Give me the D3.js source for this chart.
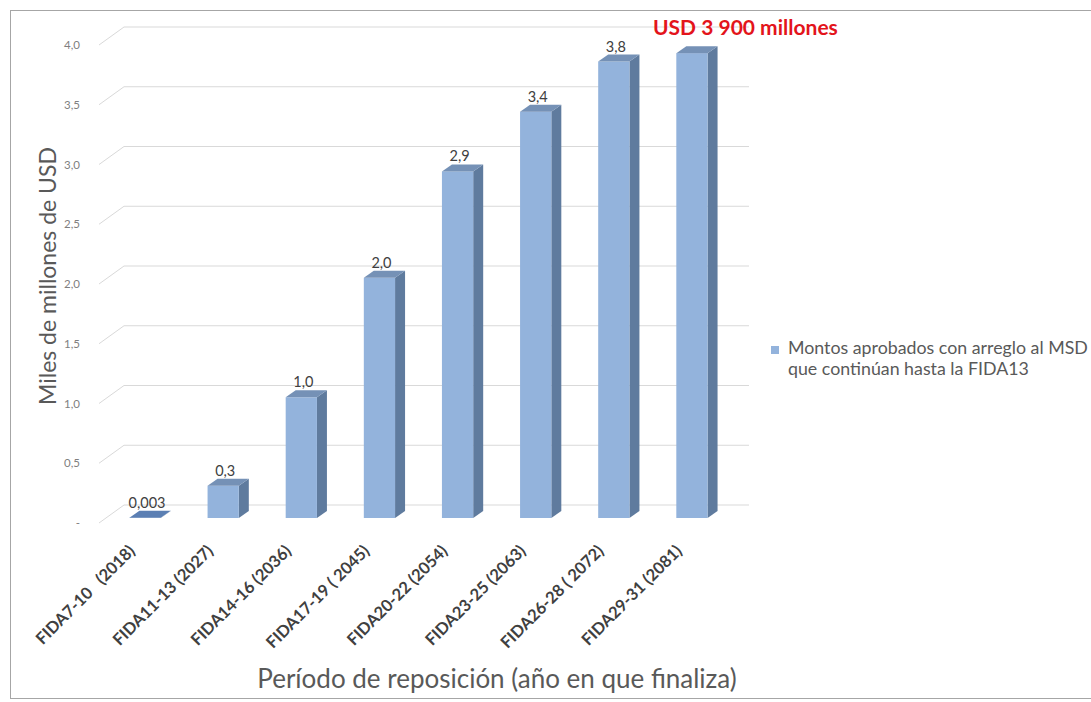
<!DOCTYPE html>
<html>
<head>
<meta charset="utf-8">
<script src="https://cdn.jsdelivr.net/npm/d3@7"></script>
<style>
  body { margin: 0; background: #fff; }
  svg { display: block; font-family: Lato, "Open Sans", sans-serif; }
</style>
</head>
<body>
<div id="chart"></div>
<script>
(function() {
  'use strict';

  var categories = [
    'FIDA7-10   (2018)', 'FIDA11-13 (2027)', 'FIDA14-16 (2036)', 'FIDA17-19 ( 2045)',
    'FIDA20-22 (2054)', 'FIDA23-25 (2063)', 'FIDA26-28 ( 2072)', 'FIDA29-31 (2081)'
  ];
  var values = [0.003, 0.27, 1.01, 2.01, 2.9, 3.4, 3.82, 3.89];
  var valueLabels = ['0,003', '0,3', '1,0', '2,0', '2,9', '3,4', '3,8', null];
  var yTicks = [0, 0.5, 1, 1.5, 2, 2.5, 3, 3.5, 4];
  var seriesName = ['Montos aprobados con arreglo al MSD', 'que continúan hasta la FIDA13'];
  var totalNote = 'USD 3 900 millones';

  var width = 1091;
  var height = 702;

  // oblique offsets of the 3d look
  var barDepth = [10, -7];
  var wallDepth = [18, -13];
  var floorFront = [-7, 5];

  var svg = d3.select('#chart').append('svg')
    .attr('width', width)
    .attr('height', height);

  svg.append('rect')
    .attr('x', 10.5).attr('y', 10.5)
    .attr('width', 1100).attr('height', 688)
    .attr('fill', '#fff')
    .attr('stroke', '#a6a6a6');

  var x = d3.scaleBand()
    .domain(categories)
    .range([106, 731]);

  var y = d3.scaleLinear()
    .domain([0, 4])
    .range([518, 40]);

  var barW = x.bandwidth() * 0.4;

  function fmt(v) {
    if (v === 0) { return '-'; }
    return d3.format('.1f')(v).replace('.', ',');
  }

  // gridlines on the back wall, with the diagonal on the side
  var grid = svg.append('g').attr('class', 'grid');
  grid.selectAll('path')
    .data(yTicks)
    .enter().append('path')
    .attr('d', function (d) {
      var x0 = x.range()[0], x1 = x.range()[1], yy = y(d);
      return 'M' + (x0 + floorFront[0]) + ',' + (yy + floorFront[1]) +
        'L' + (x0 + wallDepth[0]) + ',' + (yy + wallDepth[1]) +
        'L' + (x1 + wallDepth[0]) + ',' + (yy + wallDepth[1]);
    })
    .attr('fill', 'none')
    .attr('stroke', '#d9d9d9')
    .attr('stroke-width', 1);

  svg.append('g').selectAll('text')
    .data(yTicks)
    .enter().append('text')
    .attr('x', 80)
    .attr('y', function (d) { return y(d) + floorFront[1]; })
    .attr('dy', '0.35em')
    .attr('text-anchor', 'end')
    .attr('font-size', 11.5)
    .attr('fill', '#7f7f7f')
    .text(fmt);

  // bars
  var bars = svg.append('g').selectAll('g')
    .data(values)
    .enter().append('g');

  function bx(d, i) { return x(categories[i]) + (x.bandwidth() - barW) / 2; }

  bars.append('path')
    .attr('d', function (d, i) {
      var x0 = bx(d, i), x1 = x0 + barW, yt = y(d), yb = y(0);
      return 'M' + x1 + ',' + yt + 'L' + (x1 + barDepth[0]) + ',' + (yt + barDepth[1]) +
        'L' + (x1 + barDepth[0]) + ',' + (yb + barDepth[1]) + 'L' + x1 + ',' + yb + 'Z';
    })
    .attr('fill', '#5f7b9e');

  bars.append('rect')
    .attr('x', bx)
    .attr('y', function (d) { return y(d); })
    .attr('width', barW)
    .attr('height', function (d) { return y(0) - y(d); })
    .attr('fill', '#93b3dc');

  bars.append('path')
    .attr('d', function (d, i) {
      var x0 = bx(d, i), x1 = x0 + barW, yt = y(d);
      return 'M' + x0 + ',' + yt + 'L' + x1 + ',' + yt +
        'L' + (x1 + barDepth[0]) + ',' + (yt + barDepth[1]) +
        'L' + (x0 + barDepth[0]) + ',' + (yt + barDepth[1]) + 'Z';
    })
    .attr('fill', function (d) { return d < 0.05 ? '#5b7fb3' : '#7591b6'; });

  bars.append('text')
    .attr('x', function (d, i) { return bx(d, i) + barW / 2 + 2; })
    .attr('y', function (d) { return y(d) - 10; })
    .attr('text-anchor', 'middle')
    .attr('font-size', 14.5)
    .attr('fill', '#404040')
    .text(function (d, i) { return valueLabels[i]; });

  // category labels
  svg.append('g').selectAll('text')
    .data(categories)
    .enter().append('text')
    .attr('transform', function (d) {
      return 'translate(' + (x(d) + x.bandwidth() / 2 - 9) + ',552) rotate(-45)';
    })
    .attr('text-anchor', 'end')
    .attr('font-size', 16.5)
    .attr('font-weight', 'bold')
    .attr('fill', '#404040')
    .attr('xml:space', 'preserve')
    .style('white-space', 'pre')
    .text(function (d) { return d; });

  // axis titles
  svg.append('text')
    .attr('transform', 'translate(56,276) rotate(-90)')
    .attr('text-anchor', 'middle')
    .attr('font-size', 23)
    .attr('fill', '#595959')
    .text('Miles de millones de USD');

  svg.append('text')
    .attr('x', 497)
    .attr('y', 688)
    .attr('text-anchor', 'middle')
    .attr('font-size', 26)
    .attr('fill', '#595959')
    .text('Período de reposición (año en que finaliza)');

  svg.append('text')
    .attr('x', 653)
    .attr('y', 35)
    .attr('font-size', 21)
    .attr('font-weight', 'bold')
    .attr('fill', '#e3141b')
    .text(totalNote);

  // legend
  var legend = svg.append('g').attr('transform', 'translate(771,346)');
  legend.append('rect')
    .attr('width', 8).attr('height', 8)
    .attr('fill', '#93b3dc');
  legend.selectAll('text')
    .data(seriesName)
    .enter().append('text')
    .attr('x', 17)
    .attr('y', function (d, i) { return 8 + i * 21; })
    .attr('font-size', 17.8)
    .attr('fill', '#595959')
    .text(function (d) { return d; });
})();
</script>
</body>
</html>
